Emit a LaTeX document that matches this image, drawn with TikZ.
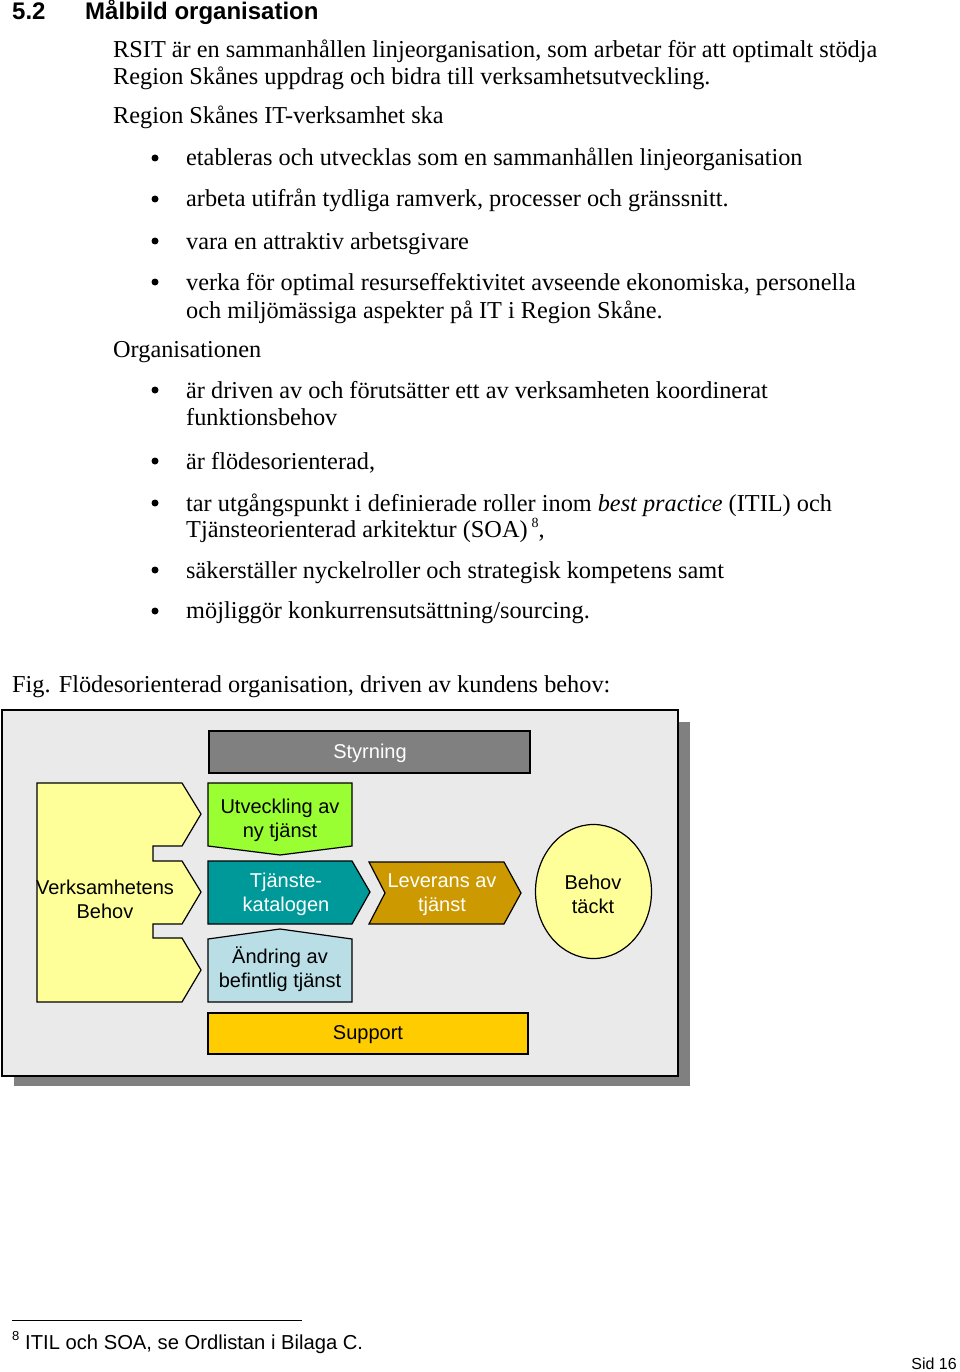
\documentclass[tikz,border=0pt]{standalone}
\usepackage{fontspec}
\setmainfont{Liberation Serif}
\newfontfamily\arial{Liberation Sans}
\definecolor{bggray}{HTML}{EAEAEA}
\definecolor{shadowgray}{HTML}{808080}
\definecolor{styrgray}{HTML}{808080}
\definecolor{lightyellow}{HTML}{FFFF99}
\definecolor{newgreen}{HTML}{99FF33}
\definecolor{tealc}{HTML}{009999}
\definecolor{goldc}{HTML}{CC9900}
\definecolor{lightblue}{HTML}{B9DEE6}
\definecolor{supportc}{HTML}{FFCC00}
\begin{document}
\begin{tikzpicture}[x=1pt,y=-1pt,
  tline/.style={anchor=base west, inner sep=0pt, font=\fontsize{24.3}{27}\selectfont},
  bul/.style={circle, fill=black, inner sep=0pt, minimum size=7pt},
  shp/.style={draw=black, line width=1.2pt, line join=miter},
  dtext/.style={align=center, inner sep=0pt, font=\arial\fontsize{20}{24}\selectfont}
]
\useasboundingbox (0,0) rectangle (960,1372);
\fill[white] (0,0) rectangle (960,1372);

% heading
\node[anchor=base west, inner sep=0pt, font=\arial\bfseries\fontsize{24}{28}\selectfont] (h1) at (12,20) {5.2};
\node[anchor=base west, inner sep=0pt, font=\arial\bfseries\fontsize{24}{28}\selectfont] (h2) at (85,20) {Målbild organisation};

% body text
\node[tline] (p1) at (113,58) {RSIT är en sammanhållen linjeorganisation, som arbetar för att optimalt stödja};
\node[tline] (p2) at (113,85) {Region Skånes uppdrag och bidra till verksamhetsutveckling.};
\node[tline] (p3) at (113,124) {Region Skånes IT-verksamhet ska};

\node[bul] (b1) at (155,158) {};
\node[tline] (l1) at (186,166) {etableras och utvecklas som en sammanhållen linjeorganisation};
\node[bul] (b2) at (155,199) {};
\node[tline] (l2) at (186,207) {arbeta utifrån tydliga ramverk, processer och gränssnitt.};
\node[bul] (b3) at (155,241) {};
\node[tline] (l3) at (186,249) {vara en attraktiv arbetsgivare};
\node[bul] (b4) at (155,282) {};
\node[tline] (l4) at (186,290) {verka för optimal resurseffektivitet avseende ekonomiska, personella};
\node[tline] (l4b) at (186,318) {och miljömässiga aspekter på IT i Region Skåne.};

\node[tline] (p4) at (113,357) {Organisationen};

\node[bul] (b5) at (155,390) {};
\node[tline] (m1) at (186,398) {är driven av och förutsätter ett av verksamheten koordinerat};
\node[tline] (m1b) at (186,425) {funktionsbehov};
\node[bul] (b6) at (155,461) {};
\node[tline] (m2) at (186,469) {är flödesorienterad,};
\node[bul] (b7) at (155,503) {};
\node[tline] (m3) at (186,511) {tar utgångspunkt i definierade roller inom \textit{best practice} (ITIL) och};
\node[tline] (m3b) at (186,537) {Tjänsteorienterad arkitektur (SOA)\,\raisebox{0.38em}{\fontsize{14}{14}\selectfont 8},};
\node[bul] (b8) at (155,570) {};
\node[tline] (m4) at (186,578) {säkerställer nyckelroller och strategisk kompetens samt};
\node[bul] (b9) at (155,611) {};
\node[tline] (m5) at (186,618) {möjliggör konkurrensutsättning/sourcing.};

\node[tline] (fig) at (12,692) {Fig. Flödesorienterad organisation, driven av kundens behov:};

% diagram frame
\fill[shadowgray] (14,722) rectangle (690,1086);
\draw[fill=bggray, line width=1.4pt] (2,710) rectangle (678,1076);

% Styrning
\draw[shp, fill=styrgray] (209,731) rectangle (530,773);
\node[dtext, text=white] (styr) at (370,753) {Styrning};

% Verksamhetens behov
\draw[shp, fill=lightyellow] (37,783) -- (182,783) -- (201,814) -- (182,846) -- (153,846) -- (153,861)
  -- (182,861) -- (201,892) -- (182,924) -- (153,924) -- (153,938) -- (182,938) -- (201,970)
  -- (182,1002) -- (37,1002) -- cycle;
\node[dtext] (verk) at (105,899) {Verksamhetens\\Behov};

% Utveckling
\draw[shp, fill=newgreen] (208,783) -- (352,783) -- (352,846) -- (280,855) -- (208,846) -- cycle;
\node[dtext] (utv) at (280,820) {Utveckling av\\ny tjänst};

% Tjanstekatalogen
\draw[shp, fill=tealc] (208,861) -- (352,861) -- (370,892) -- (352,924) -- (208,924) -- cycle;
\node[dtext, text=white] (kat) at (286,894) {Tjänste-\\katalogen};

% Leverans
\draw[shp, fill=goldc] (369,862) -- (504,862) -- (521,893) -- (504,924) -- (369,924) -- (385,893) -- cycle;
\node[dtext, text=white] (lev) at (442,895) {Leverans av\\tjänst};

% Behov tackt
\draw[shp, fill=lightyellow] (593.5,891.5) ellipse [x radius=58, y radius=67];
\node[dtext] (tackt) at (593,894) {Behov\\täckt};

% Andring
\draw[shp, fill=lightblue] (208,939) -- (280,929) -- (352,939) -- (352,1002) -- (208,1002) -- cycle;
\node[dtext] (andr) at (280,969) {Ändring av\\befintlig tjänst};

% Support
\draw[shp, fill=supportc] (208,1013) rectangle (528,1054);
\node[dtext] (supp) at (368,1035) {Support};

% footnote
\draw[line width=0.8pt] (12,1320) -- (302,1320);
\node[anchor=base west, inner sep=0pt, font=\arial\fontsize{13}{13}\selectfont] (fn8) at (12,1340) {8};
\node[anchor=base west, inner sep=0pt, font=\arial\fontsize{20.2}{24}\selectfont] (fn) at (25,1349) {ITIL och SOA, se Ordlistan i Bilaga C.};
\node[anchor=base east, inner sep=0pt, font=\arial\fontsize{16}{18}\selectfont] (sid) at (957,1369) {Sid 16};
\end{tikzpicture}
\end{document}
